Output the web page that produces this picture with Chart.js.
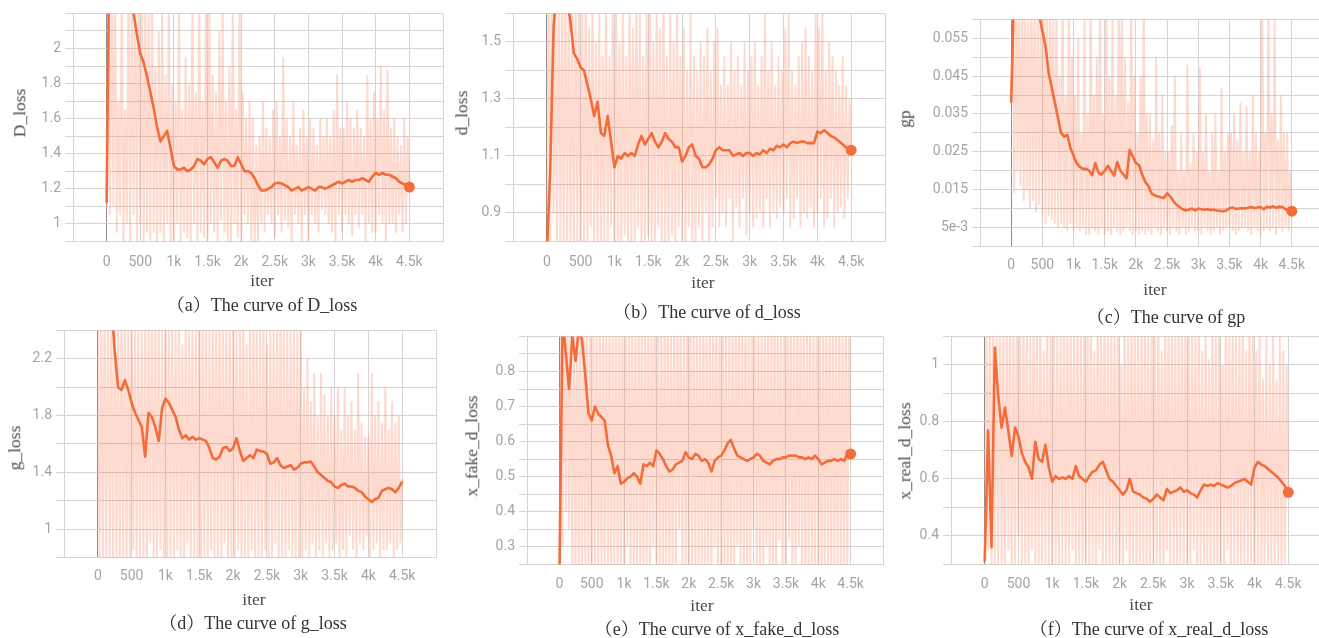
<!DOCTYPE html>
<html><head><meta charset="utf-8">
<script src="https://cdn.jsdelivr.net/npm/chart.js@4.4.1/dist/chart.umd.min.js"></script>
<style>
html,body{margin:0;padding:0;background:#fff;width:1319px;height:638px;overflow:hidden;position:relative;}
.wrap{position:absolute;}
.t{position:absolute;white-space:nowrap;font-family:'Liberation Serif','Noto Serif CJK SC','Noto Sans CJK SC',serif;color:#4a4a4a;transform:translate(-50%,-50%);line-height:1;font-size:17.5px;}
.yt{transform:translate(-50%,-50%) rotate(-90deg);}
.cap{font-size:18px;color:#333;}
</style></head><body>
<script>
// ---- data ----
const iters = Array.from({length: 91}, (_, i) => i * 50);      // smoothed curve sample steps
const rawIters = Array.from({length: 181}, (_, i) => i * 25);  // raw curve sample steps
const xTickVals = [0, 500, 1000, 1500, 2000, 2500, 3000, 3500, 4000, 4500];
const xTickText = ['0', '500', '1k', '1.5k', '2k', '2.5k', '3k', '3.5k', '4k', '4.5k'];

const smoothA = [1.12,2.9,3.0,2.9,2.8,2.7,2.55,2.4,2.2,2.08,
 1.97,1.92,1.84,1.75,1.66,1.55,1.47,1.50,1.53,1.43,
 1.33,1.31,1.31,1.32,1.30,1.31,1.33,1.37,1.36,1.34,
 1.37,1.38,1.35,1.32,1.36,1.37,1.36,1.33,1.33,1.38,
 1.34,1.30,1.30,1.29,1.26,1.22,1.19,1.19,1.20,1.21,
 1.23,1.235,1.23,1.22,1.21,1.19,1.20,1.21,1.19,1.20,
 1.21,1.20,1.19,1.21,1.21,1.20,1.21,1.22,1.23,1.24,
 1.23,1.24,1.25,1.24,1.25,1.25,1.26,1.25,1.24,1.27,
 1.29,1.28,1.29,1.28,1.28,1.27,1.26,1.24,1.23,1.22,
 1.21];
const rawA = [1.1,2.6,1.05,2.4,1.1,2.5,0.95,1.7,1.05,2.4,
 0.9,1.65,1.0,2.5,0.85,2.4,1.05,2.3,0.9,2.5,
 1.0,2.45,0.85,2.3,0.95,2.2,0.9,2.4,0.95,1.9,
 0.85,2.1,0.95,2.3,0.9,1.85,1.0,2.3,0.88,1.8,
 0.85,1.7,1.0,2.3,0.9,1.65,0.95,1.95,0.92,1.8,
 0.88,2.3,1.0,1.75,0.9,2.3,0.95,1.7,0.92,2.3,
 0.85,2.3,1.0,1.85,0.95,1.75,0.9,2.1,1.02,2.25,
 0.95,1.7,0.9,1.9,0.85,2.3,1.0,1.65,0.92,2.3,
 0.9,1.75,1.05,1.6,1.0,1.7,0.9,1.6,0.85,1.45,
 0.9,1.5,1.0,1.7,0.95,1.55,1.05,1.5,1.0,1.65,
 0.92,1.7,1.05,1.5,0.95,1.95,1.02,1.6,0.98,1.5,
 0.88,1.7,1.05,1.45,1.0,1.55,0.9,1.65,1.05,1.5,
 0.9,1.6,1.05,1.55,1.0,1.45,0.95,1.6,1.08,1.5,
 1.05,1.6,1.0,1.5,0.95,1.65,0.9,1.85,1.05,1.55,
 0.95,1.55,1.05,1.7,1.0,1.6,0.93,1.55,1.05,1.65,
 0.98,1.55,1.05,1.5,0.9,1.85,1.0,1.6,0.95,1.75,
 0.95,1.6,1.05,1.9,1.0,1.65,0.9,1.88,1.0,1.55,
 1.0,1.6,0.95,1.5,1.05,1.45,0.95,1.6,1.0,1.5,
 1.2];
const yValsA = [1, 1.2, 1.4, 1.6, 1.8, 2];
const yTextA = ['1', '1.2', '1.4', '1.6', '1.8', '2'];

const smoothB = [0.75,1.05,1.55,1.7,1.72,1.7,1.65,1.57,1.46,1.44,
 1.41,1.40,1.35,1.30,1.24,1.29,1.18,1.17,1.24,1.15,
 1.06,1.10,1.09,1.11,1.10,1.11,1.10,1.14,1.17,1.14,
 1.16,1.18,1.15,1.13,1.15,1.18,1.16,1.15,1.13,1.13,
 1.08,1.10,1.13,1.14,1.10,1.09,1.06,1.06,1.07,1.09,
 1.12,1.13,1.12,1.12,1.12,1.10,1.105,1.11,1.10,1.11,
 1.11,1.10,1.11,1.105,1.12,1.11,1.125,1.12,1.135,1.13,
 1.14,1.13,1.145,1.15,1.145,1.15,1.15,1.145,1.145,1.145,
 1.185,1.18,1.19,1.18,1.17,1.165,1.155,1.145,1.135,1.125,
 1.12];
const rawB = [0.7,1.9,0.75,1.8,0.9,1.75,0.75,1.7,0.8,1.7,
 0.75,1.75,0.8,1.7,0.78,1.65,0.75,1.7,0.8,1.65,
 0.75,1.6,0.8,1.7,0.75,1.55,0.85,1.7,0.75,1.5,
 0.8,1.6,0.75,1.45,0.8,1.7,0.78,1.45,0.85,1.65,
 0.75,1.7,0.8,1.5,0.78,1.65,0.82,1.45,0.75,1.7,
 0.8,1.55,0.78,1.7,0.85,1.6,0.78,1.45,0.8,1.65,
 0.82,1.7,0.78,1.5,0.8,1.65,0.85,1.55,0.78,1.7,
 0.8,1.45,0.75,1.6,0.82,1.5,0.78,1.65,0.85,1.45,
 0.8,1.55,0.78,1.4,0.85,1.6,0.78,1.45,0.8,1.4,
 0.85,1.5,0.8,1.45,0.9,1.55,0.8,1.4,0.85,1.5,
 0.95,1.55,0.85,1.35,0.9,1.45,0.85,1.35,0.95,1.5,
 0.8,1.4,0.92,1.45,0.85,1.35,0.95,1.5,0.82,1.4,
 0.9,1.45,0.85,1.5,0.88,1.35,0.9,1.45,0.85,1.6,
 0.95,1.4,0.85,1.5,0.9,1.35,0.88,1.45,0.92,1.4,
 0.9,1.55,0.95,1.6,0.85,1.4,0.88,1.35,0.95,1.45,
 0.85,1.5,0.9,1.55,0.88,1.45,0.92,1.4,0.85,1.6,
 0.9,1.55,0.95,1.6,0.85,1.4,0.88,1.5,0.95,1.45,
 0.85,1.4,0.9,1.35,0.92,1.45,0.88,1.35,0.95,1.3,
 1.1];
const yValsB = [0.9, 1.1, 1.3, 1.5];
const yTextB = ['0.9', '1.1', '1.3', '1.5'];

const smoothC = [0.038,0.07,0.075,0.075,0.074,0.072,0.070,0.067,0.064,0.061,
 0.057,0.053,0.046,0.042,0.038,0.034,0.030,0.029,0.0295,0.026,
 0.024,0.022,0.021,0.0205,0.0205,0.020,0.0188,0.022,0.0195,0.019,
 0.020,0.0213,0.020,0.0187,0.0223,0.020,0.019,0.018,0.0255,0.0238,
 0.022,0.0215,0.019,0.017,0.016,0.014,0.0135,0.0132,0.013,0.0128,
 0.014,0.0132,0.012,0.011,0.0104,0.0098,0.0095,0.0097,0.010,0.0095,
 0.010,0.0098,0.0097,0.0098,0.0096,0.0097,0.0095,0.0094,0.0093,0.0095,
 0.0101,0.0103,0.0099,0.010,0.0101,0.010,0.0102,0.0104,0.0101,0.0103,
 0.0104,0.0098,0.0105,0.0103,0.0106,0.0102,0.0105,0.0104,0.0098,0.0095,
 0.0093];
const rawC = [0.038,0.07,0.014,0.07,0.02,0.07,0.016,0.07,0.012,0.07,
 0.015,0.065,0.01,0.07,0.012,0.07,0.009,0.065,0.011,0.07,
 0.008,0.07,0.006,0.065,0.008,0.07,0.007,0.06,0.006,0.07,
 0.005,0.045,0.006,0.07,0.005,0.04,0.004,0.07,0.006,0.05,
 0.004,0.04,0.005,0.055,0.004,0.03,0.005,0.06,0.003,0.035,
 0.003,0.07,0.005,0.04,0.004,0.05,0.003,0.07,0.005,0.035,
 0.003,0.07,0.004,0.045,0.003,0.06,0.005,0.04,0.004,0.07,
 0.003,0.07,0.004,0.05,0.005,0.038,0.004,0.07,0.003,0.045,
 0.004,0.03,0.003,0.045,0.004,0.07,0.003,0.035,0.004,0.035,
 0.003,0.028,0.005,0.05,0.004,0.03,0.003,0.04,0.005,0.025,
 0.004,0.025,0.003,0.032,0.005,0.045,0.004,0.02,0.003,0.03,
 0.005,0.02,0.003,0.048,0.004,0.022,0.005,0.03,0.004,0.025,
 0.004,0.047,0.003,0.025,0.005,0.035,0.004,0.02,0.003,0.03,
 0.004,0.035,0.005,0.02,0.003,0.042,0.004,0.025,0.005,0.03,
 0.005,0.03,0.004,0.035,0.003,0.028,0.004,0.038,0.005,0.025,
 0.005,0.037,0.004,0.025,0.003,0.04,0.005,0.03,0.004,0.025,
 0.003,0.07,0.004,0.03,0.005,0.07,0.004,0.035,0.005,0.06,
 0.003,0.028,0.005,0.04,0.004,0.03,0.005,0.03,0.004,0.02,
 0.009];
const yValsC = [0.005, 0.015, 0.025, 0.035, 0.045, 0.055];
const yTextC = ['5e-3', '0.015', '0.025', '0.035', '0.045', '0.055'];

const smoothD = [3.2,3.1,2.95,2.8,2.6,2.25,2.0,1.98,2.05,1.98,
 1.89,1.82,1.77,1.72,1.51,1.82,1.79,1.72,1.62,1.85,
 1.92,1.89,1.84,1.79,1.70,1.64,1.66,1.63,1.65,1.63,
 1.64,1.63,1.62,1.57,1.50,1.49,1.51,1.57,1.58,1.55,
 1.57,1.64,1.55,1.48,1.50,1.52,1.50,1.56,1.55,1.545,
 1.53,1.46,1.47,1.50,1.45,1.43,1.44,1.45,1.42,1.43,
 1.46,1.47,1.47,1.475,1.44,1.40,1.38,1.36,1.34,1.33,
 1.30,1.29,1.31,1.32,1.30,1.30,1.29,1.27,1.26,1.23,
 1.21,1.19,1.21,1.22,1.27,1.28,1.29,1.28,1.26,1.29,
 1.335];
const rawD = [2.6,0.7,2.6,0.7,2.6,0.75,2.6,0.8,2.6,0.7,
 2.6,0.75,2.5,0.7,2.6,0.8,2.6,0.7,2.5,0.75,
 2.6,0.85,2.5,0.7,2.6,0.75,2.4,0.8,2.6,0.7,
 2.5,0.9,2.6,0.75,2.5,0.7,2.6,0.85,2.4,0.75,
 2.6,0.7,2.5,0.8,2.6,0.75,2.4,0.85,2.6,0.75,
 2.3,0.7,2.5,0.9,2.4,0.75,2.5,0.8,2.4,0.75,
 2.6,0.75,2.5,0.8,2.6,0.7,2.4,0.85,2.6,0.75,
 2.5,0.8,2.6,0.75,2.4,0.9,2.6,0.7,2.5,0.8,
 2.6,0.75,2.4,0.85,2.5,0.7,2.6,0.8,2.3,0.75,
 2.5,0.85,2.6,0.75,2.4,0.8,2.5,0.7,2.6,0.85,
 2.3,0.75,2.5,0.8,2.4,0.9,2.5,0.75,2.6,0.8,
 2.4,0.75,2.5,0.85,2.4,0.8,2.5,0.75,2.4,0.8,
 2.5,0.8,2.0,0.85,2.2,0.75,1.9,0.9,2.1,0.8,
 1.8,0.85,2.1,0.8,1.95,0.9,1.8,0.8,2.0,0.85,
 1.8,0.9,2.0,0.75,1.7,0.85,2.0,0.8,1.8,0.95,
 1.9,0.85,1.7,0.8,2.1,0.9,1.75,0.85,1.65,0.95,
 1.65,0.8,2.1,0.85,1.8,0.9,1.9,0.8,1.75,0.85,
 2.0,0.85,1.7,0.9,1.9,0.8,1.75,0.85,1.8,0.9,
 1.35];
const yValsD = [1, 1.4, 1.8, 2.2];
const yTextD = ['1', '1.4', '1.8', '2.2'];

const smoothE = [0.2,0.95,0.85,0.75,0.9,0.83,0.92,0.89,0.79,0.68,
 0.66,0.70,0.68,0.67,0.66,0.59,0.56,0.51,0.53,0.48,
 0.485,0.495,0.50,0.51,0.50,0.48,0.535,0.53,0.54,0.53,
 0.575,0.565,0.55,0.53,0.515,0.52,0.535,0.54,0.545,0.57,
 0.555,0.55,0.565,0.56,0.545,0.55,0.54,0.515,0.545,0.555,
 0.56,0.575,0.595,0.605,0.58,0.56,0.555,0.55,0.545,0.55,
 0.555,0.565,0.56,0.545,0.54,0.535,0.545,0.55,0.55,0.555,
 0.555,0.56,0.56,0.56,0.555,0.555,0.55,0.555,0.55,0.56,
 0.55,0.535,0.54,0.545,0.545,0.55,0.545,0.55,0.545,0.565,
 0.565];
const rawE = [0.2,1.0,0.3,1.0,0.4,1.0,0.35,1.0,0.2,1.0,
 0.2,1.0,0.22,0.95,0.2,1.0,0.25,1.0,0.2,0.95,
 0.2,0.95,0.22,1.0,0.2,0.95,0.22,1.0,0.2,0.95,
 0.25,1.0,0.2,0.95,0.22,1.0,0.2,0.95,0.22,1.0,
 0.2,1.0,0.3,0.95,0.2,1.0,0.22,0.95,0.2,1.0,
 0.22,1.0,0.2,0.95,0.25,1.0,0.2,0.95,0.3,1.0,
 0.2,0.95,0.22,1.0,0.2,0.95,0.22,1.0,0.2,0.95,
 0.22,1.0,0.2,0.95,0.35,1.0,0.2,0.95,0.22,1.0,
 0.2,1.0,0.22,0.95,0.2,1.0,0.25,0.95,0.2,1.0,
 0.2,0.95,0.22,1.0,0.2,0.95,0.3,1.0,0.2,0.95,
 0.2,0.95,0.22,1.0,0.2,0.95,0.22,1.0,0.2,0.95,
 0.3,1.0,0.2,0.95,0.22,1.0,0.2,0.95,0.22,1.0,
 0.35,1.0,0.2,0.95,0.22,1.0,0.2,0.95,0.3,1.0,
 0.2,0.95,0.22,1.0,0.2,0.95,0.32,1.0,0.2,0.95,
 0.2,0.95,0.32,1.0,0.2,0.95,0.22,1.0,0.3,0.95,
 0.22,1.0,0.2,0.95,0.25,1.0,0.2,0.95,0.22,1.0,
 0.2,1.0,0.22,0.95,0.2,1.0,0.25,0.95,0.2,1.0,
 0.25,0.95,0.2,1.0,0.22,0.95,0.2,1.0,0.22,0.95,
 0.56];
const yValsE = [0.3, 0.4, 0.5, 0.6, 0.7, 0.8];
const yTextE = ['0.3', '0.4', '0.5', '0.6', '0.7', '0.8'];

const smoothF = [0.31,0.77,0.36,1.06,0.89,0.78,0.85,0.77,0.68,0.78,
 0.75,0.69,0.66,0.64,0.60,0.73,0.67,0.66,0.72,0.64,
 0.59,0.61,0.60,0.605,0.60,0.61,0.60,0.645,0.61,0.60,
 0.59,0.61,0.625,0.63,0.65,0.66,0.63,0.60,0.59,0.575,
 0.56,0.545,0.56,0.60,0.555,0.55,0.545,0.535,0.53,0.52,
 0.53,0.545,0.535,0.525,0.565,0.55,0.555,0.56,0.57,0.555,
 0.56,0.55,0.545,0.535,0.56,0.58,0.575,0.58,0.575,0.585,
 0.58,0.575,0.57,0.575,0.585,0.59,0.595,0.60,0.59,0.58,
 0.64,0.66,0.65,0.645,0.635,0.625,0.615,0.605,0.59,0.575,
 0.553];
const rawF = [0.3,1.2,0.35,1.2,0.25,1.2,0.3,1.15,0.25,1.2,
 0.3,1.15,0.25,1.2,0.35,1.2,0.25,1.15,0.3,1.2,
 0.4,1.2,0.25,1.15,0.3,1.2,0.25,1.1,0.35,1.2,
 0.25,1.15,0.3,1.2,0.25,1.05,0.3,1.2,0.28,1.15,
 0.25,1.2,0.3,1.1,0.25,1.2,0.3,1.15,0.25,1.2,
 0.3,1.2,0.35,1.15,0.25,1.2,0.3,1.1,0.25,1.2,
 0.3,1.15,0.25,1.2,0.3,1.05,0.25,1.2,0.35,1.15,
 0.25,1.2,0.3,1.1,0.25,1.2,0.3,1.15,0.25,1.2,
 0.3,1.0,0.25,1.2,0.35,1.1,0.25,1.2,0.3,1.15,
 0.25,1.2,0.3,1.15,0.25,1.2,0.3,1.1,0.25,1.2,
 0.3,1.15,0.25,1.2,0.3,1.05,0.25,1.2,0.35,1.15,
 0.25,1.2,0.3,1.1,0.25,1.2,0.3,1.15,0.25,1.2,
 0.3,1.15,0.25,1.2,0.35,1.1,0.25,1.2,0.3,1.05,
 0.25,1.2,0.3,1.02,0.25,1.2,0.3,1.1,0.25,1.15,
 0.3,1.0,0.25,1.2,0.35,1.1,0.25,1.2,0.3,1.15,
 0.25,1.1,0.3,1.2,0.25,1.05,0.3,1.2,0.28,1.15,
 0.25,1.05,0.3,1.2,0.25,0.95,0.3,1.1,0.28,1.0,
 0.3,1.15,0.25,0.95,0.3,1.1,0.25,1.05,0.3,1.0,
 0.55];
const yValsF = [0.4, 0.6, 0.8, 1];
const yTextF = ['0.4', '0.6', '0.8', '1'];

// ---- layout ----
const panels = [
 {smooth: smoothA, raw: rawA, yv: yValsA, yt: yTextA, min: 0.9, max: 2.2, step: 0.1, dot: true,
  plot: {x: 73, y: 13, w: 370, h: 228}, xpad: 13, ylabel: 'D_loss', yl: [20, 113], it: [262, 281], cap: [262, 305], capText: '（a）The curve of D_loss'},
 {smooth: smoothB, raw: rawB, yv: yValsB, yt: yTextB, min: 0.8, max: 1.6, step: 0.1, dot: true,
  plot: {x: 513, y: 13, w: 372, h: 228}, xpad: 13, ylabel: 'd_loss', yl: [462, 113], it: [703, 283], cap: [707, 312], capText: '（b）The curve of d_loss'},
 {smooth: smoothC, raw: rawC, yv: yValsC, yt: yTextC, min: 0, max: 0.06, step: 0.005, dot: true,
  plot: {x: 980, y: 19, w: 343, h: 227}, xpad: 11, ylabel: 'gp', yl: [905, 119], it: [1155, 290], cap: [1166, 317], capText: '（c）The curve of gp'},
 {smooth: smoothD, raw: rawD, yv: yValsD, yt: yTextD, min: 0.8, max: 2.4, step: 0.2, dot: false,
  plot: {x: 64, y: 330, w: 372, h: 227}, xpad: 11, ylabel: 'g_loss', yl: [15, 448], it: [254, 600], cap: [253, 623], capText: '（d）The curve of g_loss'},
 {smooth: smoothE, raw: rawE, yv: yValsE, yt: yTextE, min: 0.25, max: 0.9, step: 0.05, dot: true,
  plot: {x: 527, y: 336, w: 356, h: 228}, xpad: 12, ylabel: 'x_fake_d_loss', yl: [472, 446], it: [702, 606], cap: [717, 629], capText: '（e）The curve of x_fake_d_loss'},
 {smooth: smoothF, raw: rawF, yv: yValsF, yt: yTextF, min: 0.3, max: 1.1, step: 0.1, dot: true,
  plot: {x: 951, y: 336, w: 371, h: 228}, xpad: 12, ylabel: 'x_real_d_loss', yl: [905, 451], it: [1141, 605], cap: [1149, 629], capText: '（f）The curve of x_real_d_loss'}
];

const GRID = '#d4d4d4';
const TICK = '#a4a4a4';
const ORANGE = '#f26c3c';
const RAW = 'rgba(250,120,80,0.28)';
const xGrid = [];
for (let i = 0; i <= 11; i++) xGrid.push(-500 + i * 500);

function addText(str, x, y, cls) {
  const d = document.createElement('div');
  d.className = 't ' + cls;
  d.textContent = str;
  d.style.left = x + 'px';
  d.style.top = y + 'px';
  document.body.appendChild(d);
}

function build(p) {
  const wrap = document.createElement('div');
  wrap.className = 'wrap';
  const W = p.plot.w + 70, H = p.plot.h + 50;
  wrap.style.width = W + 'px'; wrap.style.height = H + 'px';
  wrap.style.left = '0px'; wrap.style.top = '0px';
  const cv = document.createElement('canvas');
  wrap.appendChild(cv);
  document.body.appendChild(wrap);
  const n = Math.round((p.max - p.min) / p.step);
  const yGrid = [];
  for (let i = 0; i <= n; i++) yGrid.push(+(p.min + i * p.step).toFixed(6));
  const last = iters.length - 1;
  const chart = new Chart(cv, {
    type: 'line',
    data: {datasets: [
      {data: iters.map((x, i) => ({x, y: p.smooth[i]})), borderColor: ORANGE, borderWidth: 2.6,
       pointRadius: ctx => (p.dot && ctx.dataIndex === last) ? 5.5 : 0, pointBackgroundColor: ORANGE,
       pointBorderWidth: 0, tension: 0, clip: 0, borderJoinStyle: 'round'},
      {data: rawIters.map((x, i) => ({x, y: p.raw[i]})), borderColor: RAW, borderWidth: 1.9,
       pointRadius: 0, tension: 0, clip: 0}
    ]},
    options: {
      responsive: true, maintainAspectRatio: false, animation: false, events: [],
      plugins: {legend: {display: false}, tooltip: {enabled: false}},
      layout: {padding: {top: 6, right: 0, left: 0, bottom: 0}},
      scales: {
        x: {type: 'linear', min: -500, max: 5000,
          afterBuildTicks: s => { s.ticks = xGrid.map(v => ({value: v})); },
          ticks: {autoSkip: false, maxRotation: 0, padding: p.xpad, color: TICK, font: {family: 'Roboto', size: 14},
            callback: v => { const k = xTickVals.indexOf(v); return k < 0 ? '' : xTickText[k]; }},
          grid: {color: c => (c.tick && c.tick.value === 0) ? '#8d8d8d' : GRID, drawTicks: false, lineWidth: 1},
          border: {color: GRID}},
        y: {min: p.min, max: p.max,
          afterBuildTicks: s => { s.ticks = yGrid.map(v => ({value: v})); },
          afterFit: s => { s.width = 60; },
          ticks: {autoSkip: false, padding: 4, color: TICK, font: {family: 'Roboto', size: 14},
            callback: v => { const k = p.yv.findIndex(t => Math.abs(t - v) < 1e-9); return k < 0 ? '' : p.yt[k]; }},
          grid: {color: GRID, tickLength: 8, lineWidth: 1},
          border: {color: GRID}}
      }
    }
  });
  const ca = chart.chartArea;
  const W2 = W - (ca.right - ca.left) + p.plot.w;
  const H2 = H - (ca.bottom - ca.top) + p.plot.h;
  wrap.style.width = W2 + 'px'; wrap.style.height = H2 + 'px';
  chart.resize();
  const cb = chart.chartArea;
  wrap.style.left = (p.plot.x - cb.left) + 'px';
  wrap.style.top = (p.plot.y - cb.top) + 'px';

  addText(p.ylabel, p.yl[0], p.yl[1], 'yt');
  addText('iter', p.it[0], p.it[1], '');
  addText(p.capText, p.cap[0], p.cap[1], 'cap');
}

panels.forEach(build);
</script>
</body></html>
